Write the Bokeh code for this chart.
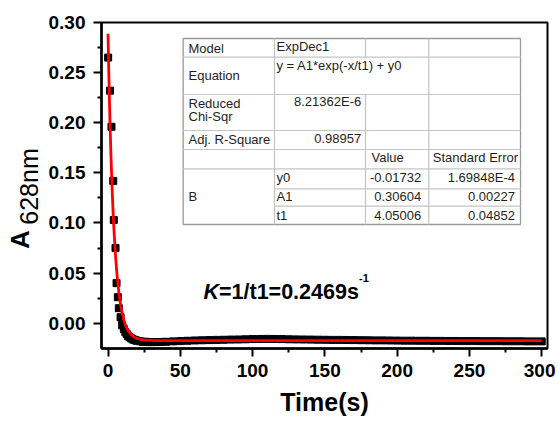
import numpy as np
from bokeh.plotting import figure
from bokeh.layouts import row
from bokeh.models import Range1d, FixedTicker, PrintfTickFormatter, Label
from bokeh.embed import file_html
from bokeh.resources import INLINE

# ---------------- data ----------------
time_pts = [0.1, 1.4, 2.4, 3.6, 4.0, 5.2, 5.9, 6.8, 7.5, 8.7, 9.8, 11, 12, 13, 14, 15,
            16, 17, 18, 19, 20, 22, 24, 26, 28, 30, 33, 36, 40, 45,
            50, 55, 60, 65, 70, 75, 80, 85, 90, 95, 100, 105, 110, 115, 120, 125,
            130, 135, 140, 145, 150, 155, 160, 165, 170, 175, 180, 185, 190, 195,
            200, 205, 210, 215, 220, 225, 230, 235, 240, 245, 250, 255, 260, 265,
            270, 275, 280, 285, 290, 295, 300]
abs_pts = [0.265, 0.232, 0.196, 0.142, 0.103, 0.075, 0.040, 0.026, 0.015, 0.006, -0.002,
           -0.006, -0.009, -0.011, -0.013, -0.014, -0.015, -0.016, -0.0165, -0.017, -0.0175,
           -0.018, -0.0185, -0.0185, -0.0188, -0.0188, -0.0188, -0.0187, -0.0185, -0.0181,
           -0.0178, -0.0175, -0.0172, -0.0170, -0.0168, -0.0166, -0.0165, -0.0163, -0.0162,
           -0.0160, -0.0158, -0.0157, -0.0156, -0.0157, -0.0158, -0.0160, -0.0161, -0.0162,
           -0.0163, -0.0164, -0.0165, -0.0166, -0.0166, -0.0167, -0.0168, -0.0169, -0.0170,
           -0.0171, -0.0171, -0.0172, -0.0173, -0.0174, -0.0174, -0.0175, -0.0175, -0.0176,
           -0.0176, -0.0177, -0.0177, -0.0178, -0.0178, -0.0178, -0.0179, -0.0179, -0.0179,
           -0.0180, -0.0180, -0.0180, -0.0181, -0.0181, -0.0181]

fit_time = [0, 0.5, 1, 1.5, 2, 2.5, 3, 3.5, 4, 4.5, 5, 5.5, 6, 6.5, 7, 7.5, 8, 9, 10,
            11, 12, 13, 14, 16, 18, 20, 22, 25, 30, 35, 40, 60, 300]
fit_abs = [0.28872, 0.25318, 0.22177, 0.19399, 0.16946, 0.14776, 0.12859, 0.11164,
           0.09667, 0.08343, 0.07173, 0.06139, 0.05225, 0.04417, 0.03703, 0.03072,
           0.02514, 0.01585, 0.00859, 0.00292, -0.00151, -0.00497, -0.00767, -0.01143,
           -0.01372, -0.01513, -0.01598, -0.01668, -0.01713, -0.01727, -0.01730,
           -0.01732, -0.01732]

x_ticks = [0, 50, 100, 150, 200, 250, 300]
x_minor = [25, 75, 125, 175, 225, 275]
y_ticks = [0.00, 0.05, 0.10, 0.15, 0.20, 0.25, 0.30]
y_minor = [0.025, 0.075, 0.125, 0.175, 0.225, 0.275]

x_title = "Time(s)"
y_title = ["A", "628nm"]

tbl_model = ["Model", "ExpDec1"]
tbl_equation = ["Equation", "y = A1*exp(-x/t1) + y0"]
tbl_chi = ["Reduced", "Chi-Sqr", "8.21362E-6"]
tbl_r2 = ["Adj. R-Square", "0.98957"]
tbl_head = ["Value", "Standard Error"]
tbl_group = "B"
param_names = ["y0", "A1", "t1"]
param_values = ["-0.01732", "0.30604", "4.05006"]
param_errors = ["1.69848E-4", "0.00227", "0.04852"]
k_text = ["K", "=1/t1=0.2469s", "-1"]

# ---------------- layout ----------------
XMIN, XMAX = -4.5, 304.0
YMIN, YMAX = -0.0252, 0.30
H = 423
LW = 45                 # width of the y-title strip
W = 510                 # width of the main plot
FL, FT = 101, 22        # frame left/top in page pixels
FW, FH = 446, 326
BL = FL - LW
BB = H - FT - FH


def X(px):
    return XMIN + (px - FL) / FW * (XMAX - XMIN)


def Y(py):
    return YMAX - (py - FT) / FH * (YMAX - YMIN)


p = figure(width=W, height=H, x_range=Range1d(XMIN, XMAX), y_range=Range1d(YMIN, YMAX),
           output_backend="svg", toolbar_location=None, title=None,
           min_border_left=BL, min_border_top=FT, min_border_right=W - BL - FW,
           min_border_bottom=BB)
p.xgrid.visible = False
p.ygrid.visible = False
p.outline_line_color = "black"
p.outline_line_width = 2
p.background_fill_color = "white"
p.border_fill_color = "white"

for ax in (p.xaxis[0], p.yaxis[0]):
    ax.axis_line_width = 2.5
    ax.major_tick_line_width = 2
    ax.minor_tick_line_width = 2
    ax.major_tick_out = 8
    ax.major_tick_in = 0
    ax.minor_tick_out = 4
    ax.minor_tick_in = 0
    ax.major_label_text_font = "Liberation Sans"
    ax.major_label_text_font_style = "bold"
    ax.major_label_text_font_size = "19px"
    ax.major_label_text_color = "black"

p.xaxis[0].ticker = FixedTicker(ticks=x_ticks, minor_ticks=x_minor)
p.yaxis[0].ticker = FixedTicker(ticks=y_ticks, minor_ticks=y_minor)
p.yaxis[0].formatter = PrintfTickFormatter(format="%.2f")
p.xaxis[0].major_label_standoff = 7
p.yaxis[0].major_label_standoff = 8
p.xaxis[0].axis_label = x_title
p.xaxis[0].axis_label_text_font = "Liberation Sans"
p.xaxis[0].axis_label_text_font_style = "bold"
p.xaxis[0].axis_label_text_font_size = "25px"
p.xaxis[0].axis_label_text_color = "black"
p.xaxis[0].axis_label_standoff = 8

# ---------------- data marks ----------------
p.line(time_pts[9:], abs_pts[9:], line_color="black", line_width=6)
p.scatter(time_pts, abs_pts, marker="square", size=7, color="black")
p.line(fit_time, fit_abs, line_color="#ff0000", line_width=2.8)

# ---------------- fit table ----------------
TL, TR, TT, TB = 182.7, 520, 38, 224
C1, C2, C3 = 274, 365, 428.3
rows_full = [56.7, 94, 130, 149, 168.3]
rows_part = [188.3, 205.7]
p.quad(left=X(TL), right=X(TR), top=Y(TT), bottom=Y(TB), fill_color="white",
       line_color="#9a9a9a", line_width=1.3)
gray = "#c4c4c4"
p.segment(x0=[X(TL)] * len(rows_full), x1=[X(TR)] * len(rows_full),
          y0=[Y(r) for r in rows_full], y1=[Y(r) for r in rows_full], line_color=gray, line_width=1.2)
p.segment(x0=[X(C1)] * len(rows_part), x1=[X(TR)] * len(rows_part),
          y0=[Y(r) for r in rows_part], y1=[Y(r) for r in rows_part], line_color=gray, line_width=1.2)
p.segment(x0=[X(C1), X(C3), X(C2), X(C2)], x1=[X(C1), X(C3), X(C2), X(C2)],
          y0=[Y(TT), Y(TT), Y(TT), Y(94)], y1=[Y(TB), Y(TB), Y(56.7), Y(TB)],
          line_color=gray, line_width=1.2)

TXT = "#1e1e1e"


def cell(text, px, py, align="left"):
    p.add_layout(Label(x=X(px), y=Y(py), text=text, text_font="Liberation Sans",
                       text_font_size="13px", text_color=TXT, text_align=align,
                       text_baseline="middle"))


cell(tbl_model[0], 188, 48)
cell(tbl_model[1], 276, 46)
cell(tbl_equation[0], 188, 75)
cell(tbl_equation[1], 276, 65)
cell(tbl_chi[0], 188, 102.7)
cell(tbl_chi[1], 188, 116)
cell(tbl_chi[2], 360.7, 100.7, "right")
cell(tbl_r2[0], 188, 139.3)
cell(tbl_r2[1], 360.7, 138, "right")
cell(tbl_head[0], 371, 156.7)
cell(tbl_head[1], 432.3, 156.7)
cell(tbl_group, 188, 195.7)
for i, ry in enumerate([176.7, 195.7, 215]):
    cell(param_names[i], 276, ry)
    cell(param_values[i], 420.7, ry, "right")
    cell(param_errors[i], 514.5, ry, "right")

# ---------------- K annotation ----------------
p.add_layout(Label(x=X(203), y=Y(291), text=k_text[0], text_font="Liberation Sans",
                   text_font_style="bold italic", text_font_size="21.5px", text_color="black",
                   text_baseline="alphabetic"))
p.add_layout(Label(x=X(218.5), y=Y(291), text=k_text[1], text_font="Liberation Sans",
                   text_font_style="bold", text_font_size="21.5px", text_color="black",
                   text_baseline="alphabetic"))
p.add_layout(Label(x=X(358.5), y=Y(277.5), text=k_text[2], text_font="Liberation Sans",
                   text_font_style="bold", text_font_size="11px", text_color="black",
                   text_baseline="alphabetic"))

# ---------------- y title strip ----------------
# its frame is aligned with the main frame (rows align frames), so use the same
# vertical borders and a range where y = page pixels measured up from the bottom
q = figure(width=LW, height=H, x_range=Range1d(0, LW), y_range=Range1d(BB, H - FT),
           output_backend="svg", toolbar_location=None, title=None,
           x_axis_location=None, y_axis_location=None,
           min_border_left=0, min_border_right=0, min_border_top=FT, min_border_bottom=BB)
q.xgrid.visible = False
q.ygrid.visible = False
q.outline_line_color = None
q.background_fill_color = "white"
q.border_fill_color = "white"
q.add_layout(Label(x=19.5, y=H - 239, text=y_title[0], angle=np.pi / 2,
                   text_font="Liberation Sans", text_font_style="bold",
                   text_font_size="26px", text_color="black",
                   text_align="center", text_baseline="middle"))
q.add_layout(Label(x=28, y=H - 186, text=y_title[1], angle=np.pi / 2,
                   text_font="Liberation Sans", text_font_size="25px", text_color="black",
                   text_align="center", text_baseline="middle"))

layout = row(q, p)
open("out.html", "w").write(file_html(layout, INLINE))
